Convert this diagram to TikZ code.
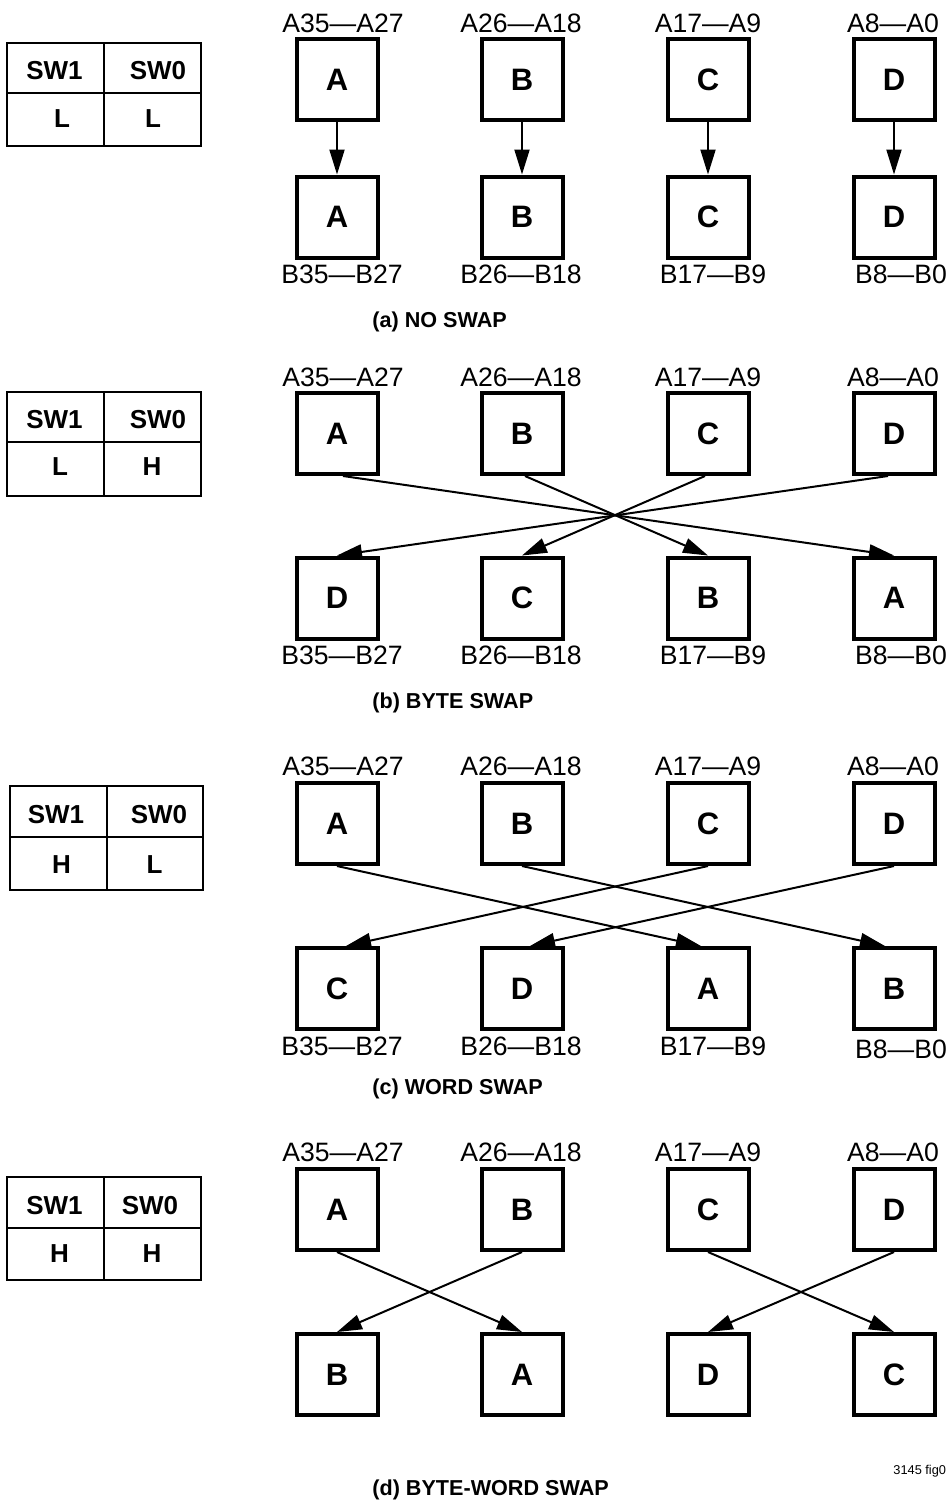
\documentclass[tikz,border=0pt]{standalone}
\usepackage{fontspec}
\setmainfont{Liberation Sans}
\usetikzlibrary{arrows.meta}
\begin{document}
\begin{tikzpicture}[x=0.5pt,y=-0.5pt,
  box/.style={draw, line width=2pt, minimum size=40.5pt, inner sep=0pt, font=\bfseries\fontsize{15.5}{15.5}\selectfont},
  lab/.style={inner sep=0pt, font=\fontsize{13.3}{13.3}\selectfont},
  tbl/.style={line width=1pt},
  ttext/.style={inner sep=0pt, font=\bfseries\fontsize{13}{13}\selectfont},
  capt/.style={inner sep=0pt, anchor=base west, font=\bfseries\fontsize{10.8}{10.8}\selectfont},
  arr/.style={line width=1pt, -{Triangle[length=12.5pt,width=7.5pt]}},
  note/.style={inner sep=0pt, anchor=west, font=\fontsize{6.4}{6.4}\selectfont}]
\useasboundingbox (0,0) rectangle (948,1501);

% ---------- tables ----------
\draw[tbl] (7,43) rectangle (201,146) (104,43) -- (104,146) (7,93) -- (201,93);
\node[ttext] (ta1) at (54.5,71) {SW1};
\node[ttext] (ta0) at (158,71) {SW0};
\node[ttext] (tav1) at (62,119) {L};
\node[ttext] (tav0) at (153,119) {L};

\draw[tbl] (7,392) rectangle (201,496) (104,392) -- (104,496) (7,442) -- (201,442);
\node[ttext] (tb1) at (54.5,420) {SW1};
\node[ttext] (tb0) at (158,420) {SW0};
\node[ttext] (tbv1) at (60,467) {L};
\node[ttext] (tbv0) at (152,467) {H};

\draw[tbl] (10,786) rectangle (203,890) (107,786) -- (107,890) (10,837) -- (203,837);
\node[ttext] (tc1) at (56,815) {SW1};
\node[ttext] (tc0) at (159,815) {SW0};
\node[ttext] (tcv1) at (61.5,865) {H};
\node[ttext] (tcv0) at (154.5,865) {L};

\draw[tbl] (7,1177) rectangle (201,1280) (104,1177) -- (104,1280) (7,1228) -- (201,1228);
\node[ttext] (td1) at (54.5,1206) {SW1};
\node[ttext] (td0) at (150,1206) {SW0};
\node[ttext] (tdv1) at (59.5,1254) {H};
\node[ttext] (tdv0) at (152,1254) {H};

% ---------- top labels (all sections) ----------
\foreach \s/\y in {a/23,b/377,c/766,d/1152}{
  \node[lab] (\s tl1) at (343,\y) {A35—A27};
  \node[lab] (\s tl2) at (521,\y) {A26—A18};
  \node[lab] (\s tl3) at (708,\y) {A17—A9};
  \node[lab] (\s tl4) at (893,\y) {A8—A0};
}
% ---------- bottom labels ----------
\foreach \s/\y/\yy in {a/274/274,b/655/655,c/1046/1049}{
  \node[lab] (\s bl1) at (342,\y) {B35—B27};
  \node[lab] (\s bl2) at (521,\y) {B26—B18};
  \node[lab] (\s bl3) at (713,\y) {B17—B9};
  \node[lab] (\s bl4) at (901,\yy) {B8—B0};
}

% ---------- top boxes ----------
\foreach \s/\y in {a/79.5,b/433.5,c/823.5,d/1209.5}{
  \node[box] (\s t1) at (337,\y) {A};
  \node[box] (\s t2) at (522,\y) {B};
  \node[box] (\s t3) at (708,\y) {C};
  \node[box] (\s t4) at (894,\y) {D};
}

% ---------- bottom boxes ----------
\node[box] (ab1) at (337,217) {A};
\node[box] (ab2) at (522,217) {B};
\node[box] (ab3) at (708,217) {C};
\node[box] (ab4) at (894,217) {D};

\node[box] (bb1) at (337,598) {D};
\node[box] (bb2) at (522,598) {C};
\node[box] (bb3) at (708,598) {B};
\node[box] (bb4) at (894,598) {A};

\node[box] (cb1) at (337,988.5) {C};
\node[box] (cb2) at (522,988.5) {D};
\node[box] (cb3) at (708,988.5) {A};
\node[box] (cb4) at (894,988.5) {B};

\node[box] (db1) at (337,1374.5) {B};
\node[box] (db2) at (522,1374.5) {A};
\node[box] (db3) at (708,1374.5) {D};
\node[box] (db4) at (894,1374.5) {C};

% ---------- arrows ----------
\foreach \i in {1,2,3,4}{ \draw[arr] (at\i.south) -- (ab\i.north); }

\draw[arr] ([xshift=3pt]bt1.south) -- (bb4.north);
\draw[arr] ([xshift=1.5pt]bt2.south) -- (bb3.north);
\draw[arr] ([xshift=-1.5pt]bt3.south) -- (bb2.north);
\draw[arr] ([xshift=-3pt]bt4.south) -- (bb1.north);

\draw[arr] (ct1.south) -- ([xshift=-3.5pt]cb3.north);
\draw[arr] (ct2.south) -- ([xshift=-4.5pt]cb4.north);
\draw[arr] (ct3.south) -- ([xshift=4.5pt]cb1.north);
\draw[arr] (ct4.south) -- ([xshift=4pt]cb2.north);

\draw[arr] (dt1.south) -- (db2.north);
\draw[arr] (dt2.south) -- (db1.north);
\draw[arr] (dt3.south) -- (db4.north);
\draw[arr] (dt4.south) -- (db3.north);

% ---------- captions ----------
\node[capt] (capa) at (372,327) {(a) NO SWAP};
\node[capt] (capb) at (372,708) {(b) BYTE SWAP};
\node[capt] (capc) at (372,1094) {(c) WORD SWAP};
\node[capt] (capd) at (372,1495) {(d) BYTE-WORD SWAP};
\node[note] (fig) at (893,1471) {3145 fig0};
\end{tikzpicture}
\end{document}
